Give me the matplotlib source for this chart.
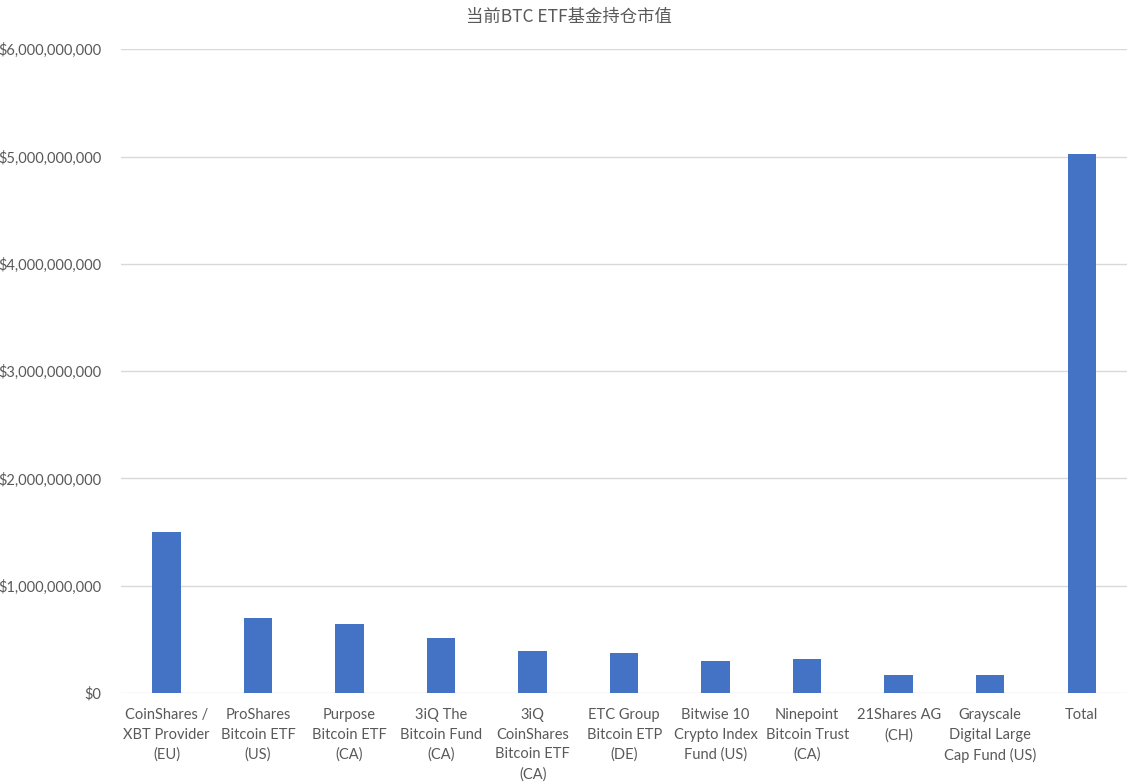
import numpy as np
import matplotlib
matplotlib.use("Agg")
import matplotlib.pyplot as plt
from matplotlib.ticker import FuncFormatter

plt.rcParams['font.family'] = ['Lato', 'Noto Sans CJK SC', 'DejaVu Sans']

# Data
funds = ["CoinShares /\nXBT Provider\n(EU)", "ProShares\nBitcoin ETF\n(US)",
         "Purpose\nBitcoin ETF\n(CA)", "3iQ The\nBitcoin Fund\n(CA)",
         "3iQ\nCoinShares\nBitcoin ETF\n(CA)", "ETC Group\nBitcoin ETP\n(DE)",
         "Bitwise 10\nCrypto Index\nFund (US)", "Ninepoint\nBitcoin Trust\n(CA)",
         "21Shares AG\n(CH)", "Grayscale\nDigital Large\nCap Fund (US)", "Total"]
values = [1.50e9, 0.70e9, 0.645e9, 0.514e9, 0.393e9, 0.377e9,
          0.296e9, 0.312e9, 0.165e9, 0.165e9, 5.02e9]
y_ticks = [0, 1e9, 2e9, 3e9, 4e9, 5e9, 6e9]

txt = "#595959"

fig = plt.figure(figsize=(11.4, 7.83), dpi=100)
ax = fig.add_axes([0.106, 0.115, 0.883, 0.822])

x = np.arange(len(funds))
ax.bar(x, values, width=0.31, color="#4472C4", zorder=3)

ax.set_ylim(0, 6e9)
ax.set_xlim(-0.5, len(funds) - 0.5)
ax.set_yticks(y_ticks)
ax.yaxis.set_major_formatter(FuncFormatter(lambda v, p: "${:,.0f}".format(v)))
ax.grid(axis="y", color="#d9d9d9", linewidth=1, zorder=0)

ax.set_xticks(x)
ax.set_xticklabels(funds, fontsize=10.5, color=txt, linespacing=1.5)
ax.tick_params(axis="y", labelsize=10.5, labelcolor=txt, length=0, pad=14)
ax.tick_params(axis="x", length=0, pad=11)
for s in ax.spines.values():
    s.set_visible(False)

fig.text(0.499, 0.978, "当前BTC ETF基金持仓市值", ha="center", va="center",
         fontsize=12.5, color=txt, family=['Noto Sans CJK SC', 'DejaVu Sans'])

fig.savefig("out.png", dpi=100)
